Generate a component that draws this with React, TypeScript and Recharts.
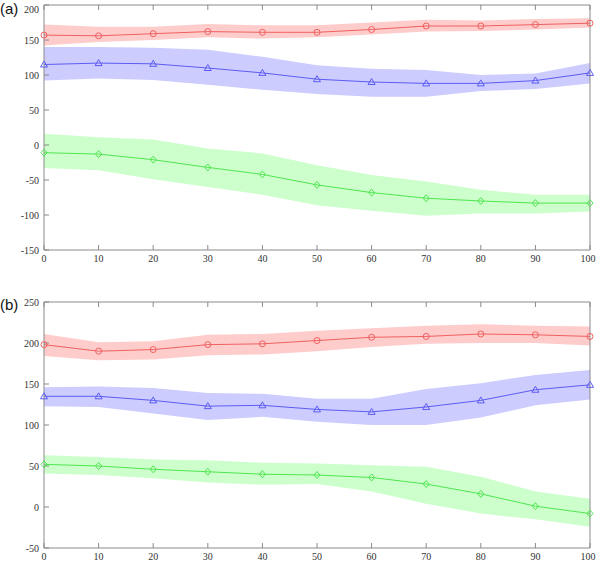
import { Area, ComposedChart, Line, XAxis, YAxis } from "recharts";

const xs = [0, 10, 20, 30, 40, 50, 60, 70, 80, 90, 100];
const xTicks = xs;

// panel (a)
const aRed = [157, 156, 159, 162, 161, 161, 165, 170, 170, 172, 174];
const aRedLo = [142, 147, 150, 154, 152, 154, 158, 162, 163, 165, 168];
const aRedHi = [172, 169, 169, 173, 171, 171, 175, 179, 178, 180, 181];
const aBlue = [115, 117, 116, 110, 103, 94, 90, 88, 88, 92, 103];
const aBlueLo = [92, 95, 93, 86, 79, 73, 69, 69, 77, 80, 88];
const aBlueHi = [140, 140, 139, 136, 126, 114, 109, 107, 100, 102, 117];
const aGreen = [-11, -13, -21, -32, -42, -57, -68, -76, -80, -83, -83];
const aGreenLo = [-33, -36, -49, -60, -71, -86, -94, -101, -98, -98, -95];
const aGreenHi = [16, 11, 8, -5, -12, -29, -43, -52, -64, -71, -71];
const aYTicks = [-150, -100, -50, 0, 50, 100, 150, 200];

// panel (b)
const bRed = [198, 190, 192, 198, 199, 203, 207, 208, 211, 210, 208];
const bRedLo = [184, 179, 180, 185, 186, 190, 195, 199, 200, 200, 197];
const bRedHi = [211, 201, 202, 210, 211, 215, 218, 221, 223, 221, 220];
const bBlue = [135, 135, 130, 123, 124, 119, 116, 122, 130, 143, 149];
const bBlueLo = [123, 122, 114, 106, 110, 104, 100, 100, 109, 124, 131];
const bBlueHi = [146, 147, 145, 139, 138, 132, 132, 144, 151, 161, 167];
const bGreen = [52, 50, 46, 43, 40, 39, 36, 28, 16, 1, -8];
const bGreenLo = [41, 39, 35, 30, 27, 28, 19, 4, -8, -15, -24];
const bGreenHi = [63, 61, 58, 57, 54, 53, 51, 49, 37, 19, 10];
const bYTicks = [-50, 0, 50, 100, 150, 200, 250];

const RED = "#f06060";
const BLUE = "#5c5cf2";
const GREEN = "#4fe64f";
const AXIS = "#8a8a8a";
const SERIF = "'Liberation Serif', 'Times New Roman', serif";

type Series = { mid: number[]; lo: number[]; hi: number[] };

function rows(r: Series, b: Series, g: Series) {
  return xs.map((x, i) => ({
    x,
    r: r.mid[i],
    rBand: [r.lo[i], r.hi[i]],
    b: b.mid[i],
    bBand: [b.lo[i], b.hi[i]],
    g: g.mid[i],
    gBand: [g.lo[i], g.hi[i]],
  }));
}

const circleDot = (color: string) => (p: any) => (
  <circle key={`c${p.index}`} cx={p.cx} cy={p.cy} r={3} fill="none" stroke={color} strokeWidth={1} />
);
const triangleDot = (color: string) => (p: any) => (
  <path
    key={`t${p.index}`}
    d={`M${p.cx},${p.cy - 3.5}L${p.cx + 3.5},${p.cy + 2.5}L${p.cx - 3.5},${p.cy + 2.5}Z`}
    fill="none"
    stroke={color}
    strokeWidth={1}
  />
);
const diamondDot = (color: string) => (p: any) => (
  <path
    key={`d${p.index}`}
    d={`M${p.cx},${p.cy - 3.5}L${p.cx + 3},${p.cy}L${p.cx},${p.cy + 3.5}L${p.cx - 3},${p.cy}Z`}
    fill="none"
    stroke={color}
    strokeWidth={1}
  />
);

// serif tick labels, as in a MATLAB figure
const xTick = (p: any) => (
  <text x={p.x} y={p.y} dy="0.71em" textAnchor="middle" fill="#333" style={{ fontFamily: SERIF, fontSize: 10 }}>
    {p.payload.value}
  </text>
);
const yTick = (p: any) => (
  <text x={p.x} y={p.y} dy="0.355em" textAnchor="end" fill="#333" style={{ fontFamily: SERIF, fontSize: 10 }}>
    {p.payload.value}
  </text>
);

function Panel(props: {
  label: string;
  labelTop: number;
  top: number;
  height: number;
  marginTop: number;
  xAxisHeight: number;
  domain: [number, number];
  yTicks: number[];
  data: any[];
}) {
  const { label, labelTop, top, height, marginTop, xAxisHeight, domain, yTicks, data } = props;
  return (
    <div style={{ position: "absolute", left: 0, top, width: 600, height }}>
      <ComposedChart
        width={600}
        height={height}
        data={data}
        margin={{ top: marginTop - 1, right: 9, bottom: 0, left: 0 }}
      >
        <XAxis
          dataKey="x"
          type="number"
          domain={[0, 100]}
          ticks={xTicks}
          height={xAxisHeight}
          tickSize={-5}
          tickMargin={10}
          axisLine={{ stroke: AXIS }}
          tickLine={{ stroke: AXIS }}
          tick={xTick}
        />
        <XAxis
          xAxisId="top"
          orientation="top"
          dataKey="x"
          type="number"
          domain={[0, 100]}
          ticks={xTicks}
          height={1}
          tickSize={-5}
          axisLine={{ stroke: AXIS }}
          tickLine={{ stroke: AXIS }}
          tickFormatter={() => ""}
        />
        <YAxis
          type="number"
          domain={domain}
          ticks={yTicks}
          width={44}
          tickSize={-5}
          tickMargin={10}
          axisLine={{ stroke: AXIS }}
          tickLine={{ stroke: AXIS }}
          tick={yTick}
        />
        <YAxis
          yAxisId="right"
          orientation="right"
          type="number"
          domain={domain}
          ticks={yTicks}
          width={1}
          tickSize={-5}
          axisLine={{ stroke: AXIS }}
          tickLine={{ stroke: AXIS }}
          tickFormatter={() => ""}
        />
        <Area type="linear" dataKey="rBand" fill="#ffcccc" fillOpacity={1} stroke="none" isAnimationActive={false} />
        <Area type="linear" dataKey="bBand" fill="#ccccff" fillOpacity={1} stroke="none" isAnimationActive={false} />
        <Area type="linear" dataKey="gBand" fill="#ccffcc" fillOpacity={1} stroke="none" isAnimationActive={false} />
        <Line type="linear" dataKey="r" stroke={RED} strokeWidth={1} dot={circleDot(RED)} isAnimationActive={false} />
        <Line type="linear" dataKey="b" stroke={BLUE} strokeWidth={1} dot={triangleDot(BLUE)} isAnimationActive={false} />
        <Line type="linear" dataKey="g" stroke={GREEN} strokeWidth={1} dot={diamondDot(GREEN)} isAnimationActive={false} />
      </ComposedChart>
      <div
        style={{
          position: "absolute",
          left: 0,
          top: labelTop,
          fontFamily: "'Liberation Sans', Arial, sans-serif",
          fontSize: 15,
          lineHeight: "18px",
          color: "#111",
        }}
      >
        {label}
      </div>
    </div>
  );
}

export default function App() {
  const dataA = rows(
    { mid: aRed, lo: aRedLo, hi: aRedHi },
    { mid: aBlue, lo: aBlueLo, hi: aBlueHi },
    { mid: aGreen, lo: aGreenLo, hi: aGreenHi }
  );
  const dataB = rows(
    { mid: bRed, lo: bRedLo, hi: bRedHi },
    { mid: bBlue, lo: bBlueLo, hi: bBlueHi },
    { mid: bGreen, lo: bGreenLo, hi: bGreenHi }
  );
  return (
    <div style={{ position: "absolute", left: 0, top: 0, width: 600, height: 562, background: "#fff" }}>
      <Panel label="(a)" labelTop={0} top={0} height={270} marginTop={5} xAxisHeight={20} domain={[-150, 200]} yTicks={aYTicks} data={dataA} />
      <Panel label="(b)" labelTop={16} top={280} height={282} marginTop={22} xAxisHeight={14} domain={[-50, 250]} yTicks={bYTicks} data={dataB} />
    </div>
  );
}
